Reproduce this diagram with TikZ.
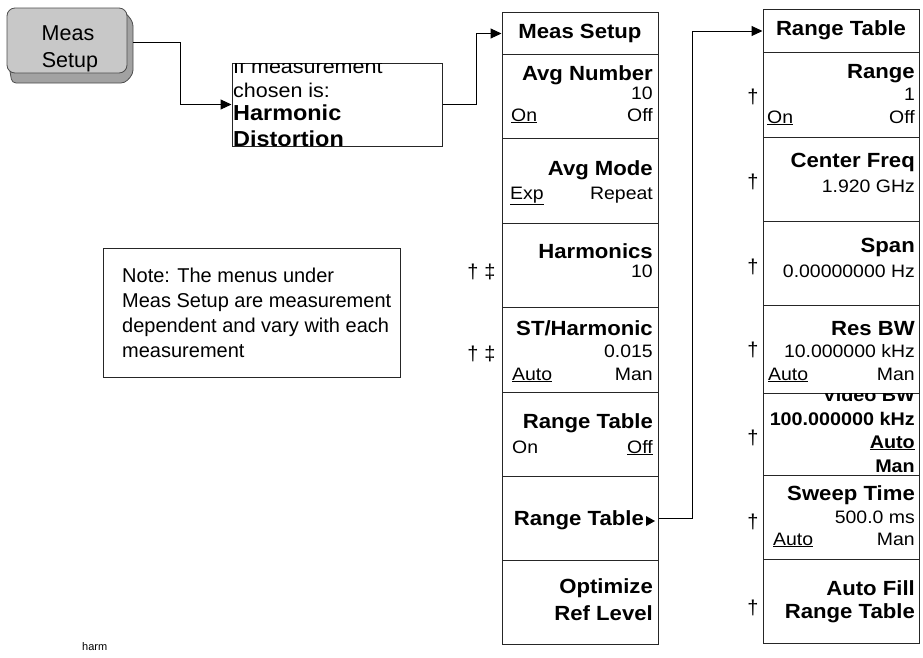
\documentclass[tikz,border=0pt]{standalone}
\usepackage{fontspec}
\setmainfont{Liberation Sans}
\newfontfamily\keyfont{Liberation Sans}[FakeStretch=1.08]
\usetikzlibrary{arrows.meta}

\definecolor{keyface}{HTML}{C8C8C8}
\definecolor{keyshade}{HTML}{A2A2A2}
\newcommand{\undl}[1]{\underline{#1}}

\tikzset{
  menubox/.style={draw=black!85, line width=1pt, minimum width=156pt, inner sep=0pt, anchor=north},
  kb/.style={font=\keyfont\fontsize{20.5}{22}\selectfont\bfseries, inner sep=0pt},
  kn/.style={font=\keyfont\fontsize{18}{20}\selectfont, inner sep=0pt},
  kbs/.style={font=\keyfont\fontsize{18.3}{20}\selectfont\bfseries, inner sep=0pt},
  dg/.style={font=\fontsize{20}{22}\selectfont, inner sep=0pt},
  conn/.style={draw=black, line width=1pt, -{Triangle[length=11pt,width=10pt]}},
}

\begin{document}
\begin{tikzpicture}[x=1pt,y=-1pt]
  \useasboundingbox (0,0) rectangle (923,657);

  % hardkey
  \filldraw[fill=keyshade, draw=black!70, line width=0.8pt, rounded corners=4pt]
    (8,60) -- (12,83) -- (125,83) -- (133,74) -- (133,22) -- (125,12) -- (100,12) -- cycle;
  \node[draw=black!70, fill=keyface, line width=0.8pt, rounded corners=8pt,
        minimum width=120pt, minimum height=65pt, inner sep=0pt] (measkey) at (67,40.5) {};
  \node[anchor=base, font=\fontsize{21.5}{24}\selectfont, inner sep=0pt] (hkA) at (68,40) {Meas};
  \node[anchor=base, font=\fontsize{21.5}{24}\selectfont, inner sep=0pt] (hkB) at (70,67) {Setup};
  \coordinate (hkout) at (133,42);

  % measurement box
  \node[draw=black!85, line width=1pt, minimum width=210pt, minimum height=83pt, inner sep=0pt] (ifbox) at (337,104.5) {};
  \begin{scope}
    \clip (232,63) rectangle (442,146);
    \node[kn, font=\keyfont\fontsize{19.9}{22}\selectfont, anchor=base west] (if1) at (233,73) {If measurement};
    \node[kn, font=\keyfont\fontsize{19.9}{22}\selectfont, anchor=base west] (if2) at (233,97) {chosen is:};
    \node[kb, font=\keyfont\fontsize{21.7}{24}\selectfont\bfseries, anchor=base west] (if3) at (233,120) {Harmonic};
    \node[kb, font=\keyfont\fontsize{21.7}{24}\selectfont\bfseries, anchor=base west] (if4) at (233,146) {Distortion};
  \end{scope}

  % note
  \node[draw=black!85, line width=1pt, minimum width=297pt, minimum height=129pt, inner sep=0pt] (note) at (251.5,312.5) {};
  \node[anchor=base west, font=\fontsize{20}{25}\selectfont, inner sep=0pt] (nt1) at (122,282) {Note: The menus under};
  \node[anchor=base west, font=\fontsize{20}{25}\selectfont, inner sep=0pt] (nt2) at (122,307) {Meas Setup are measurement};
  \node[anchor=base west, font=\fontsize{20}{25}\selectfont, inner sep=0pt] (nt3) at (122,332) {dependent and vary with each};
  \node[anchor=base west, font=\fontsize{20}{25}\selectfont, inner sep=0pt] (nt4) at (122,357) {measurement};

  % Meas Setup menu
  \foreach \nm/\ya/\yb in {hdrA/12/54, avgnum/54/138, avgmode/138/223, harms/223/307,
                           stharm/307/392, rtonoff/392/476, rtmenu/476/560, optref/560/644}
    \node[menubox, minimum height={(\yb-\ya)*1pt}] (\nm) at (580,\ya) {};

  \node[kb] (hdrAt) at (580,33) {Meas Setup};
  \node[kb, anchor=base east] (avgnum1) at (653,80) {Avg Number};
  \node[kn, anchor=base east] (avgnum2) at (653,99) {10};
  \node[kn, anchor=base west] (avgnum3) at (511,121) {\undl{On}};
  \node[kn, anchor=base east] (avgnum4) at (653,121) {Off};
  \node[kb, anchor=base east] (avgmode1) at (653,175) {Avg Mode};
  \node[kn, anchor=base west] (avgmode2) at (510,199) {\undl{Exp}};
  \node[kn, anchor=base east] (avgmode3) at (653,199) {Repeat};
  \node[kb, anchor=base east] (harms1) at (653,258) {Harmonics};
  \node[kn, anchor=base east] (harms2) at (653,277) {10};
  \node[kb, anchor=base east] (stharm1) at (653,335) {ST/Harmonic};
  \node[kn, anchor=base east] (stharm2) at (653,357) {0.015};
  \node[kn, anchor=base west] (stharm3) at (512,380) {\undl{Auto}};
  \node[kn, anchor=base east] (stharm4) at (653,380) {Man};
  \node[kb, anchor=base east] (rtonoff1) at (653,428) {Range Table};
  \node[kn, anchor=base west] (rtonoff2) at (512,453) {On};
  \node[kn, anchor=base east] (rtonoff3) at (653,453) {\undl{Off}};
  \node[kb, anchor=base east] (rtmenu1) at (644,525) {Range Table};
  \fill (646,516) -- (646,526) -- (655,521) -- cycle;
  \node[kb, anchor=base east] (optref1) at (653,593) {Optimize};
  \node[kb, anchor=base east] (optref2) at (653,620) {Ref Level};

  % Range Table menu
  \foreach \nm/\ya/\yb in {hdrB/9/52, range/52/137, cfreq/137/221, span/221/305,
                           resbw/305/393, vidbw/393/475, swptime/475/559, autofill/559/643}
    \node[menubox, minimum height={(\yb-\ya)*1pt}] (\nm) at (841,\ya) {};

  \node[kb] (hdrBt) at (841,30.5) {Range Table};
  \node[kb, anchor=base east] (range1) at (915,78) {Range};
  \node[kn, anchor=base east] (range2) at (915,100) {1};
  \node[kn, anchor=base west] (range3) at (767,123) {\undl{On}};
  \node[kn, anchor=base east] (range4) at (915,123) {Off};
  \node[kb, anchor=base east] (cfreq1) at (915,167) {Center Freq};
  \node[kn, anchor=base east] (cfreq2) at (915,192) {1.920 GHz};
  \node[kb, anchor=base east] (span1) at (915,252) {Span};
  \node[kn, anchor=base east] (span2) at (915,277) {0.00000000 Hz};
  \node[kb, anchor=base east] (resbw1) at (915,335) {Res BW};
  \node[kn, anchor=base east] (resbw2) at (915,357) {10.000000 kHz};
  \node[kn, anchor=base west] (resbw3) at (768,380) {\undl{Auto}};
  \node[kn, anchor=base east] (resbw4) at (915,380) {Man};
  \begin{scope}
    \clip (762,393) rectangle (920,475);
    \node[kbs, anchor=base east] (vidbw1) at (915,401) {Video BW};
    \node[kbs, anchor=base east] (vidbw2) at (915,425) {100.000000 kHz};
    \node[kbs, anchor=base east] (vidbw3) at (915,448) {\undl{Auto}};
    \node[kbs, anchor=base east] (vidbw4) at (915,472) {Man};
  \end{scope}
  \node[kb, anchor=base east] (swptime1) at (915,500) {Sweep Time};
  \node[kn, anchor=base east] (swptime2) at (915,523) {500.0 ms};
  \node[kn, anchor=base west] (swptime3) at (773,545) {\undl{Auto}};
  \node[kn, anchor=base east] (swptime4) at (915,545) {Man};
  \node[kb, anchor=base east] (autofill1) at (915,595) {Auto Fill};
  \node[kb, anchor=base east] (autofill2) at (915,618) {Range Table};

  % daggers
  \node[dg] (dgA1) at (473,272) {\textdagger};
  \node[dg] (dgA2) at (490,272) {\textdaggerdbl};
  \node[dg] (dgA3) at (473,354) {\textdagger};
  \node[dg] (dgA4) at (490,354) {\textdaggerdbl};
  \foreach \yy [count=\i] in {97,182,267,350,438,522,608}
    \node[dg] (dgB\i) at (753,\yy) {\textdagger};

  % connectors
  \draw[conn] (hkout) -- (180,42) |- (ifbox.west);
  \draw[conn] (ifbox.east) -- ++(34,0) |- (hdrA.west);
  \draw[conn] (rtmenu.east) -- ++(34,0) |- (hdrB.west);

  \node[anchor=base west, font=\fontsize{11}{13}\selectfont, inner sep=0pt] (harm) at (82,650) {harm};
\end{tikzpicture}
\end{document}
